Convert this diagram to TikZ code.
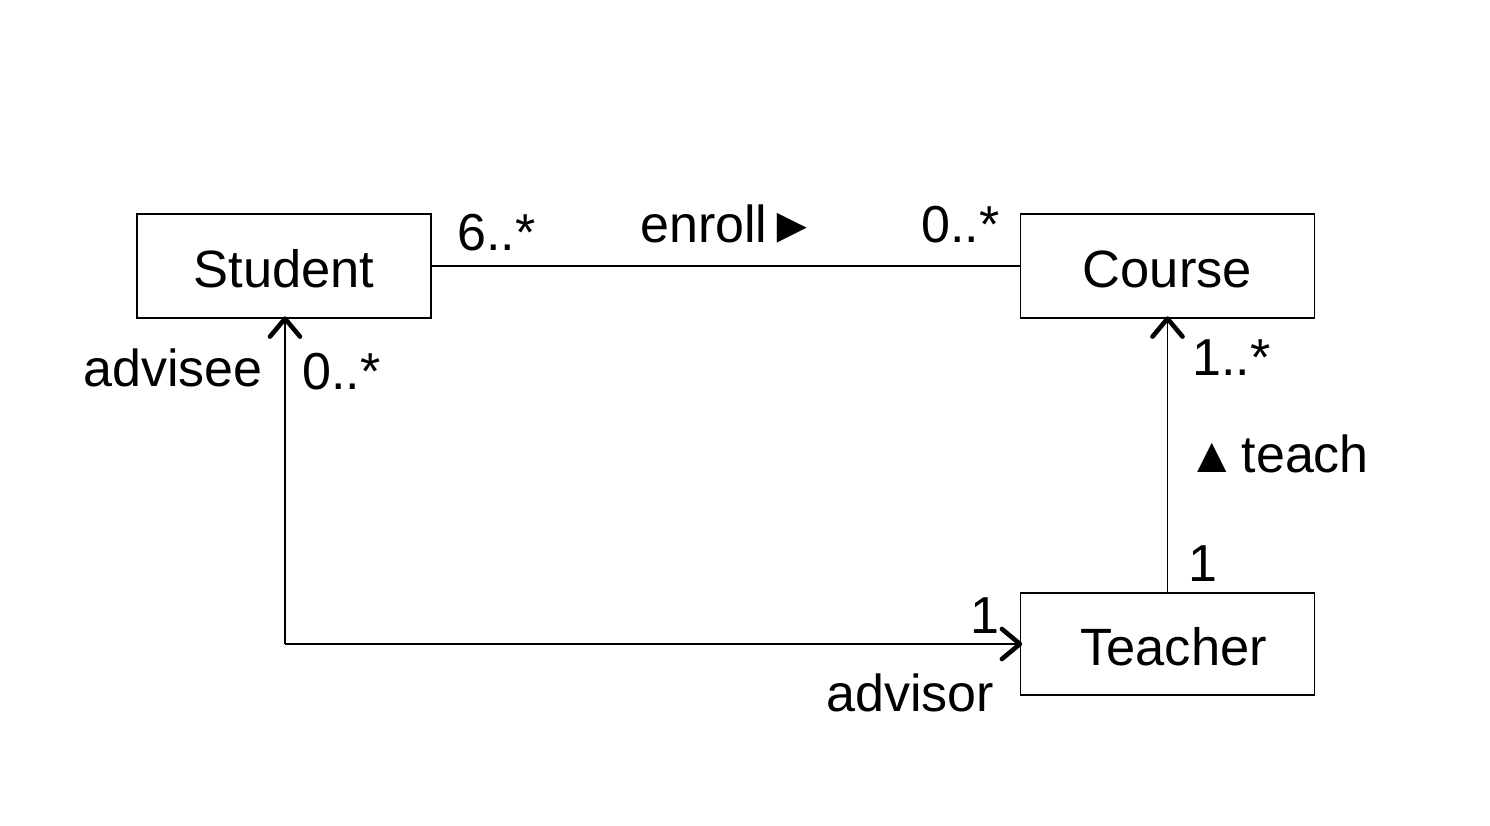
\documentclass[tikz,border=0pt]{standalone}
\usepackage{fontspec}
\setmainfont{Liberation Sans}
\usetikzlibrary{calc}
\begin{document}
\begin{tikzpicture}[x=1pt,y=-1pt,
  cls/.style={draw, line width=1.2pt, minimum width=294pt, minimum height=104pt, inner sep=0pt, font=\fontsize{52.5}{60}\selectfont},
  lbl/.style={anchor=base west, inner sep=0pt, font=\fontsize{52}{60}\selectfont},
  assoc/.style={line width=1.3pt},
  barb/.style={line width=4.6pt, line cap=round, line join=round}]
\useasboundingbox (0,0) rectangle (1490,826);
\node[cls] (student) at (284,266) {\raisebox{-3pt}[\height][\depth]{Student}};
\node[cls] (course) at (1167.5,266) {\raisebox{-3pt}[\height][\depth]{Course}};
\node[cls, minimum height=102pt] (teacher) at (1167.5,644) {\raisebox{-3pt}[\height][\depth]{\hspace*{12pt}Teacher}};
\coordinate (corner) at (285,644);
\coordinate (sTip) at (student.south -| corner);
\draw[assoc] (student.east) -- (course.west);
\draw[assoc] (corner) -- (sTip);
\draw[assoc] (corner) -- (teacher.west);
\draw[assoc] (teacher.north) -- (course.south);
\draw[barb] ($(sTip)+(-15,18)$) -- (sTip) -- ($(sTip)+(15,18)$);
\draw[barb] ($(course.south)+(-15,18)$) -- (course.south) -- ($(course.south)+(15,18)$);
\draw[barb] ($(teacher.west)+(-18,-15)$) -- (teacher.west) -- ($(teacher.west)+(-18,15)$);
\node[lbl] (m1) at (457,251) {6..*};
\node[lbl] (en) at (640,243) {enroll{\fontsize{50}{50}\selectfont\kern0pt►}};
\node[lbl] (m2) at (921,243) {0..*};
\node[lbl] (adv) at (83,386) {advisee};
\node[lbl] (m3) at (302,389) {0..*};
\node[lbl] (m4) at (1192,375) {1..*};
\node[lbl] (te) at (1187,472) {{\fontsize{50}{50}\selectfont▲}\kern5pt teach};
\node[lbl] (m5) at (1188,581) {1};
\node[lbl] (m6) at (970,633) {1};
\node[lbl] (ador) at (826,711) {advisor};
\end{tikzpicture}
\end{document}
